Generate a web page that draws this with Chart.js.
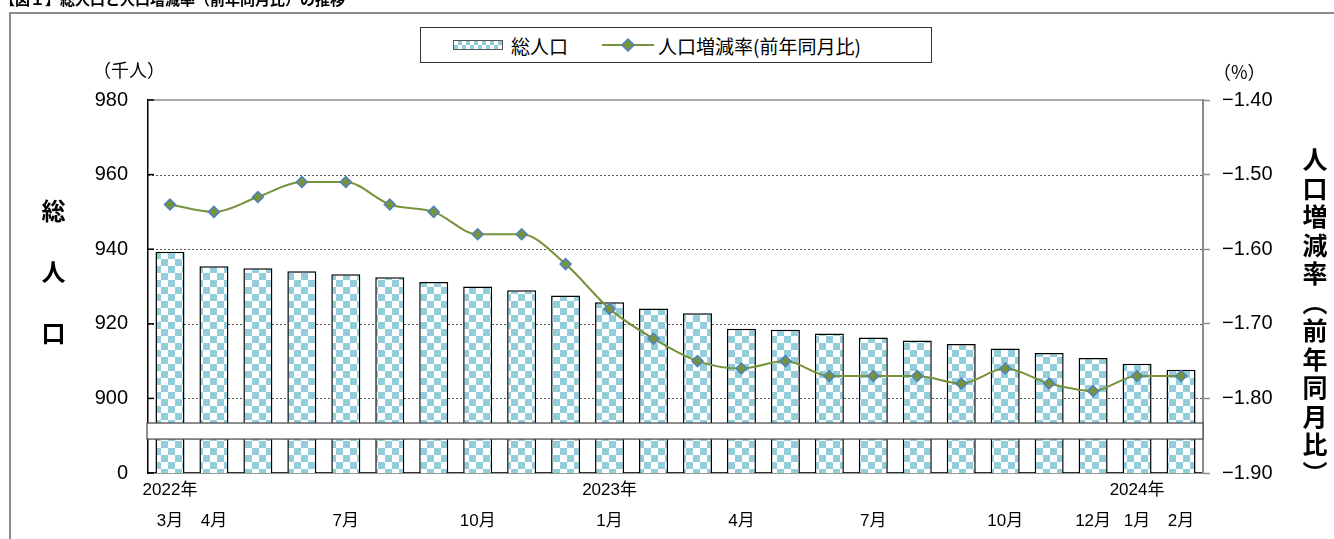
<!DOCTYPE html>
<html lang="ja">
<head>
<meta charset="utf-8">
<script src="https://cdn.jsdelivr.net/npm/chart.js@4.4.1/dist/chart.umd.min.js"></script>
<style>
  html, body { margin: 0; padding: 0; background: #fff; overflow: hidden; }
  body { width: 1334px; height: 539px; position: relative; font-family: "Liberation Sans", "Noto Sans CJK JP", sans-serif; color: #000; }
  #frame { position: absolute; left: 9px; top: 12px; width: 1400px; height: 600px; border-left: 2px solid #8c8c8c; border-top: 2px solid #8c8c8c; }
  #chart { position: absolute; left: 0; top: 0; }
  .txt { position: absolute; white-space: nowrap; }
  #title { left: 0; top: -9px; font-size: 15px; font-weight: bold; line-height: 16px; font-family: "Noto Sans CJK JP", sans-serif; }
  #legend { left: 420px; top: 27px; width: 510px; height: 34px; border: 1.5px solid #333; background: #fff;
            display: flex; align-items: center; font-size: 19px; font-family: "Noto Sans CJK JP", sans-serif; }
  .sw-bar { display: inline-block; width: 48px; height: 8px; margin-left: 32px; margin-right: 8px; border: 1px solid #555;
            background: repeating-conic-gradient(#92cddc 0 25%, #fff 0 50%) 0 0 / 8px 8px; }
  .sw-line { margin-left: 34px; margin-right: 4px; }
  .unit { font-size: 18px; font-family: "Noto Sans CJK JP", sans-serif; }
  .vtitle { writing-mode: vertical-rl; font-weight: bold; font-family: "Noto Sans CJK JP", sans-serif; }
</style>
</head>
<body>
<div id="frame"></div>
<canvas id="chart" width="1334" height="539"></canvas>
<div class="txt" id="title">【図１】総人口と人口増減率（前年同月比）の推移</div>
<div class="txt" id="legend">
  <span class="sw-bar"></span><span>総人口</span>
  <svg class="sw-line" width="52" height="14"><line x1="0" y1="7" x2="52" y2="7" stroke="#77933C" stroke-width="2"/><polygon points="26,1 32,7 26,13 20,7" fill="#77933C" stroke="#4F81BD" stroke-width="1.5"/></svg><span>人口増減率(前年同月比)</span>
</div>
<div class="txt unit" style="left:93px; top:56px;">（千人）</div>
<div class="txt unit" style="left:1213px; top:58px;">（%）</div>
<div class="txt vtitle" style="left:36px; top:199px; font-size:24px; letter-spacing:37px;">総人口</div>
<div class="txt vtitle" style="left:1297px; top:147px; font-size:25px; letter-spacing:3.5px;">人口増減率（前年同月比）</div>
<script>
// 2022年3月 〜 2024年2月
const categories = [
  "2022-03", "2022-04", "2022-05", "2022-06", "2022-07", "2022-08", "2022-09", "2022-10", "2022-11", "2022-12",
  "2023-01", "2023-02", "2023-03", "2023-04", "2023-05", "2023-06", "2023-07", "2023-08", "2023-09", "2023-10",
  "2023-11", "2023-12", "2024-01", "2024-02"
]
const yearLabels = [
  "2022年", "", "", "", "", "", "", "", "", "",
  "2023年", "", "", "", "", "", "", "", "", "",
  "", "", "2024年", ""
]
const monthLabels = [
  "3月", "4月", "", "", "7月", "", "", "10月", "", "",
  "1月", "", "", "4月", "", "", "7月", "", "", "10月",
  "", "12月", "1月", "2月"
]

// 総人口（千人）
const population = [
  939.3, 935.4, 934.9, 934.1, 933.3, 932.5, 931.2, 930.0, 929.0, 927.6,
  925.8, 924.1, 922.8, 918.7, 918.4, 917.4, 916.3, 915.5, 914.6, 913.4,
  912.2, 910.8, 909.3, 907.7
]
// 人口増減率（前年同月比, %）
const changeRate = [
  -1.54, -1.55, -1.53, -1.51, -1.51, -1.54, -1.55, -1.58, -1.58, -1.62,
  -1.68, -1.72, -1.75, -1.76, -1.75, -1.77, -1.77, -1.77, -1.78, -1.76,
  -1.78, -1.79, -1.77, -1.77
]

// 左軸の省略区間（波線の帯）
const breakFrom = 889.1
const breakTo = 893.4

function checker() {
    const c = document.createElement("canvas")
    c.width = 14
    c.height = 14
    const g = c.getContext("2d")
    g.fillStyle = "#ffffff"
    g.fillRect(0, 0, 14, 14)
    g.fillStyle = "#92cddc"
    g.fillRect(0, 0, 7, 7)
    g.fillRect(7, 7, 7, 7)
    return g.createPattern(c, "repeat")
}

const axisDeco = {
    id: "axisDeco",
    beforeDatasetsDraw(chart) {
        const { ctx, chartArea: a } = chart
        const y = chart.scales.y
        ctx.save()
        // 点線の目盛線
        ctx.strokeStyle = "#555"
        ctx.lineWidth = 1
        ctx.setLineDash([2, 2])
        y.ticks.forEach(t => {
            if (t.value <= y.min || t.value >= y.max) return
            const py = Math.round(y.getPixelForValue(t.value)) + 0.5
            ctx.beginPath()
            ctx.moveTo(a.left, py)
            ctx.lineTo(a.right, py)
            ctx.stroke()
        })
        ctx.setLineDash([])
        // 上辺
        ctx.strokeStyle = "#8c8c8c"
        ctx.lineWidth = 1.5
        ctx.beginPath()
        ctx.moveTo(a.left, a.top)
        ctx.lineTo(a.right, a.top)
        ctx.stroke()
        // 左軸の内向き目盛
        ctx.strokeStyle = "#000"
        ctx.lineWidth = 1.5
        y.ticks.forEach(t => {
            const py = y.getPixelForValue(t.value)
            ctx.beginPath()
            ctx.moveTo(a.left, py)
            ctx.lineTo(a.left + 6, py)
            ctx.stroke()
        })
        ctx.restore()
    },
    afterDatasetsDraw(chart) {
        const { ctx, chartArea: a } = chart
        const y = chart.scales.y
        const top = y.getPixelForValue(breakTo)
        const bottom = y.getPixelForValue(breakFrom)
        ctx.save()
        ctx.fillStyle = "#fff"
        ctx.fillRect(a.left - 1, top, a.right - a.left + 1, bottom - top)
        ctx.strokeStyle = "#444"
        ctx.lineWidth = 1.2
        ctx.strokeRect(a.left - 1, top, a.right - a.left + 1, bottom - top)
        ctx.restore()
    }
}

const num = "'Liberation Sans', 'Noto Sans CJK JP', sans-serif"

new Chart(document.getElementById("chart"), {
    data: {
        labels: categories,
        datasets: [
            {
                type: "line",
                label: "人口増減率(前年同月比)",
                data: changeRate,
                yAxisID: "y2",
                borderColor: "#77933C",
                borderWidth: 2,
                cubicInterpolationMode: "monotone",
                pointStyle: "rectRot",
                pointRadius: 5.5,
                pointBackgroundColor: "#77933C",
                pointBorderColor: "#4F81BD",
                pointBorderWidth: 1.5
            },
            {
                type: "bar",
                label: "総人口",
                data: population,
                yAxisID: "y",
                backgroundColor: checker(),
                borderColor: "#000",
                borderWidth: 1.5,
                categoryPercentage: 1,
                barPercentage: 0.66
            }
        ]
    },
    options: {
        responsive: false,
        animation: false,
        layout: { padding: { top: 100, left: 0, right: 0, bottom: 0 } },
        plugins: {
            legend: { display: false },
            tooltip: { enabled: false }
        },
        scales: {
            x: {
                grid: { display: false, drawTicks: false },
                border: { display: true, color: "#333", width: 1.5 },
                ticks: {
                    autoSkip: false,
                    maxRotation: 0,
                    padding: 2,
                    color: "#000",
                    font: { size: 17, family: num, lineHeight: 1.8 },
                    callback: (v, i) => [yearLabels[i], monthLabels[i]]
                },
                afterFit(scale) { scale.height = 66 }
            },
            y: {
                position: "left",
                min: 880,
                max: 980,
                grid: { display: false, drawTicks: false },
                border: { display: true, color: "#000", width: 1.5 },
                ticks: {
                    stepSize: 20,
                    padding: 20,
                    color: "#000",
                    font: { size: 20, family: num },
                    callback: v => v === 880 ? "0" : String(v)
                },
                afterFit(scale) { scale.width = 148 }
            },
            y2: {
                position: "right",
                min: -1.9,
                max: -1.4,
                grid: { drawOnChartArea: false, drawTicks: true, tickLength: 7, tickColor: "#8c8c8c", tickWidth: 1.5 },
                border: { display: true, color: "#8c8c8c", width: 2 },
                ticks: {
                    stepSize: 0.1,
                    padding: 12,
                    color: "#000",
                    font: { size: 20, family: num },
                    callback: v => (v < 0 ? "−" : "") + Math.abs(v).toFixed(2)
                },
                afterFit(scale) { scale.width = 131 }
            }
        }
    },
    plugins: [axisDeco]
})
</script>
</body>
</html>
